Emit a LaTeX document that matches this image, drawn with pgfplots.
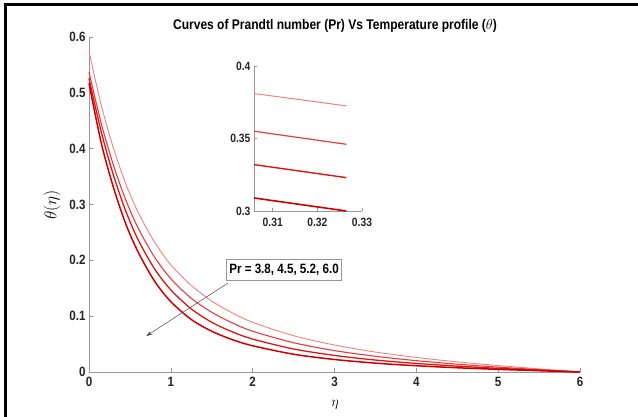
\documentclass[border=0pt]{standalone}
\usepackage{fontspec}
\setmainfont{Liberation Sans}[FakeStretch=0.86]
\usepackage{pgfplots}
\pgfplotsset{compat=1.18}
\usetikzlibrary{arrows.meta}
\definecolor{c1}{RGB}{240,130,130}
\definecolor{c2}{RGB}{232,60,60}
\definecolor{c3}{RGB}{224,20,20}
\definecolor{c4}{RGB}{205,0,0}
\definecolor{axgray}{RGB}{150,150,150}
\pgfplotstableread{
eta c1 c2 c3 c4
0    0.5740 0.5370 0.5260 0.5170
0.15 0.4780 0.4450 0.4300 0.4100
0.3  0.4000 0.3700 0.3520 0.3300
0.45 0.3370 0.3080 0.2880 0.2650
0.6  0.2860 0.2580 0.2370 0.2150
0.8  0.2330 0.2060 0.1850 0.1630
1.0  0.1920 0.1670 0.1470 0.1260
1.25 0.1550 0.1320 0.1130 0.0940
1.5  0.1270 0.1070 0.0890 0.0730
1.75 0.1060 0.0880 0.0720 0.0580
2.0  0.0890 0.0730 0.0590 0.0470
2.5  0.0650 0.0524 0.0412 0.0318
3.0  0.0483 0.0383 0.0297 0.0224
3.5  0.0357 0.0281 0.0214 0.0159
4.0  0.0261 0.0203 0.0153 0.0112
4.5  0.0181 0.0140 0.0105 0.0076
5.0  0.0115 0.0087 0.0065 0.0047
5.5  0.0056 0.0042 0.0032 0.0023
6.0  0.0000 0.0000 0.0000 0.0000
}\maindata
\pgfplotstableread{
eta c1 c2 c3 c4
0.3058 0.3810 0.3550 0.3320 0.3090
0.3265 0.3725 0.3460 0.3230 0.3000
}\insetdata
\begin{document}
\begin{tikzpicture}[x=1pt,y=1pt]
\useasboundingbox (0,0) rectangle (638,417);
\fill[white] (0,0) rectangle (638,417);
\draw[line width=3pt] (5.5,0) -- (5.5,412.5) -- (638,412.5);
\begin{axis}[
  at={(89pt,45pt)}, anchor=south west, scale only axis,
  width=491pt, height=335pt,
  xmin=0, xmax=6, ymin=0, ymax=0.6,
  axis lines*=left,
  axis line style={axgray, line width=0.6pt},
  tick style={axgray, line width=0.6pt},
  tick align=inside, major tick length=4pt,
  xtick={0,1,2,3,4,5,6},
  ytick={0,0.1,0.2,0.3,0.4,0.5,0.6},
  ticklabel style={font=\fontsize{13.5}{15}\selectfont\bfseries, text=black!85},
  xticklabel style={yshift=-2pt},
  /pgf/number format/assume math mode=true,
  clip=false,
]
\addplot[c1, line width=0.9pt, smooth] table[x=eta,y=c1] {\maindata};
\addplot[c2, line width=1.1pt, smooth] table[x=eta,y=c2] {\maindata};
\addplot[c3, line width=1.3pt, smooth] table[x=eta,y=c3] {\maindata};
\addplot[c4, line width=1.5pt, smooth] table[x=eta,y=c4] {\maindata};
\draw[black!70, line width=0.5pt, -{Stealth[length=6pt,width=4pt]}] (axis cs:1.70,0.1595) -- (axis cs:0.70,0.0645);
\node[draw=axgray, fill=white, line width=0.6pt, inner xsep=3pt, inner ysep=4.5pt,
      font=\fontsize{13.5}{15}\selectfont\bfseries] at (axis cs:2.383,0.183) {Pr = 3.8, 4.5, 5.2, 6.0};
\end{axis}
\begin{axis}[
  at={(254pt,206pt)}, anchor=south west, scale only axis,
  width=108pt, height=145pt,
  xmin=0.3058, xmax=0.33, ymin=0.3, ymax=0.4,
  axis lines*=left,
  axis line style={axgray, line width=0.6pt},
  tick style={axgray, line width=0.6pt},
  tick align=inside, major tick length=3pt,
  xtick={0.31,0.32,0.33},
  ytick={0.3,0.35,0.4},
  ticklabel style={font=\fontsize{12}{13}\selectfont\bfseries, text=black!85},
  xticklabel style={yshift=-4pt},
  /pgf/number format/assume math mode=true,
  /pgf/number format/fixed,
  scaled ticks=false,
  clip=false,
]
\addplot[c1, line width=1.0pt] table[x=eta,y=c1] {\insetdata};
\addplot[c2, line width=1.2pt] table[x=eta,y=c2] {\insetdata};
\addplot[c3, line width=1.4pt] table[x=eta,y=c3] {\insetdata};
\addplot[c4, line width=1.6pt] table[x=eta,y=c4] {\insetdata};
\end{axis}
\node[font=\fontsize{14}{16}\selectfont\bfseries] at (335,391) {Curves of Prandtl number (Pr) Vs Temperature profile ($\theta$)};
\node[rotate=90, font=\fontsize{17}{19}\selectfont] at (52,212) {$\theta(\eta)$};
\node[font=\fontsize{15}{17}\selectfont] at (335,12) {$\eta$};
\end{tikzpicture}
\end{document}
